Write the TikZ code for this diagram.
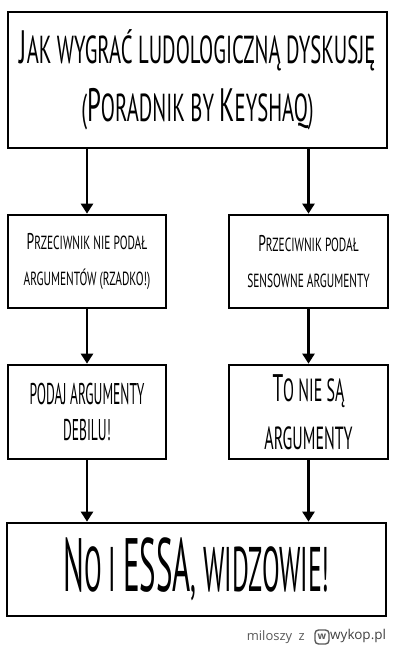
\documentclass[tikz,border=0pt]{standalone}
\usepackage{fontspec}
\usepackage{graphicx}
\setmainfont{Open Sans}
\newfontfamily\handfont{PT Sans}
\usetikzlibrary{arrows.meta}
\newcommand\ini[1]{\scalebox{1.2}{#1}}
% hand font: stretch, size, line skip
\newcommand\hand[3]{\handfont\addfontfeatures{FakeStretch=#1}\fontsize{#2}{#3}\selectfont}
\tikzset{
  box/.style={draw, line width=2.7pt, inner sep=0pt, align=center},
  flow/.style={line width=2.7pt, -{Triangle[width=12pt,length=10pt]}},
}
\begin{document}
\begin{tikzpicture}[x=1pt, y=-1pt, line join=miter]
		\useasboundingbox (0,0) rectangle (400,648);
		% boxes
		\node[box, minimum width=379pt, minimum height=136pt,
		      font=\hand{0.53}{39}{58}] (title) at (197.5,80)
		      {\ini{J}AK WYGRAĆ LUDOLOGICZNĄ DYSKUSJĘ\\(\ini{P}ORADNIK BY \ini{K}EYSHAQ)};
		\node[box, minimum width=158pt, minimum height=93pt,
		      font=\hand{0.6}{19}{36}] (nogiven) at (87,261.5)
		      {\ini{P}RZECIWNIK NIE PODAŁ\\ARGUMENTÓW (RZADKO!)};
		\node[box, minimum width=159pt, minimum height=93pt,
		      font=\hand{0.6}{19}{36}] (given) at (308.5,261.5)
		      {\ini{P}RZECIWNIK PODAŁ\\SENSOWNE ARGUMENTY};
		\node[box, minimum width=158pt, minimum height=94pt,
		      font=\hand{0.45}{30}{36}] (giveargs) at (87,412)
		      {PODAJ ARGUMENTY\\DEBILU!};
		\node[box, minimum width=159pt, minimum height=94pt,
		      font=\hand{0.5}{32}{48}] (noargs) at (308.5,412)
		      {\ini{T}O NIE SĄ\\ARGUMENTY};
		\node[box, minimum width=379pt, minimum height=93pt,
		      font=\hand{0.41}{63}{63}] (essa) at (196.5,569.5)
		      {\ini{N}O I \ini{ESSA}, WIDZOWIE!};
		% arrows
		\draw[flow] (nogiven.north |- title.south) -- (nogiven.north);
		\draw[flow] (given.north |- title.south) -- (given.north);
		\draw[flow] (nogiven) -- (giveargs);
		\draw[flow] (given) -- (noargs);
		\draw[flow] (giveargs.south) -- (essa.north -| giveargs.south);
		\draw[flow] (noargs.south) -- (essa.north -| noargs.south);
		% watermark
		\node[anchor=east, inner sep=0pt, text=black!65, font=\fontsize{13}{13}\selectfont] (user) at (305,637) {miloszy\enspace z};
		\node[draw=black!65, line width=1.4pt, rounded corners=3.5pt, minimum size=14pt, inner sep=0pt,
		      text=black!65, font=\bfseries\fontsize{10}{10}\selectfont] (logo) at (322,637) {w};
		\node[anchor=west, inner sep=0pt, text=black!75, font=\fontsize{13.5}{13.5}\selectfont] (site) at (330,636) {wykop.pl};
	\end{tikzpicture}
\end{document}
